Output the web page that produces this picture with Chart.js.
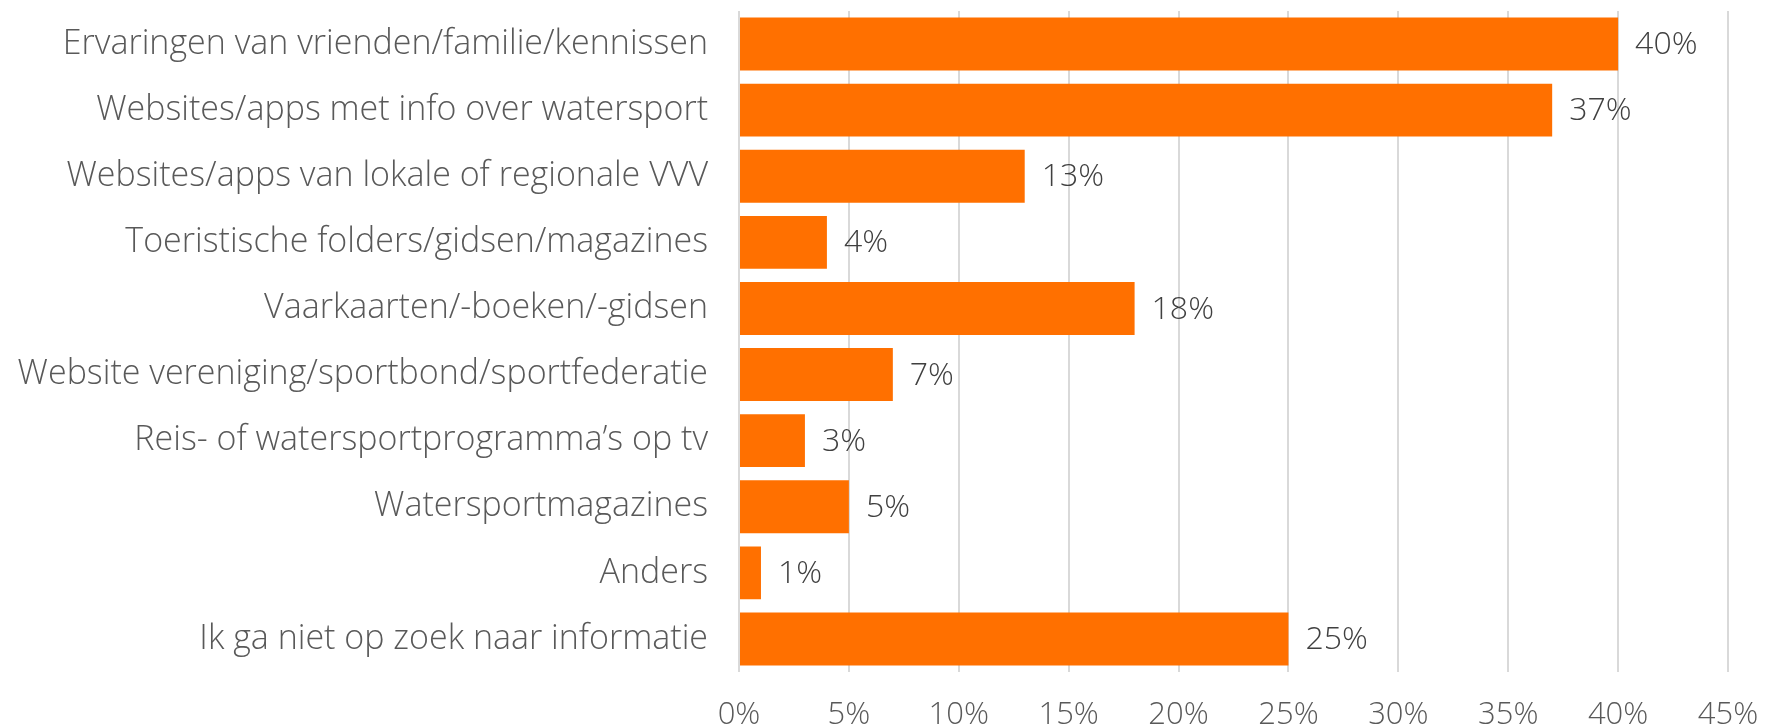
<!DOCTYPE html>
<html>
<head>
<meta charset="utf-8">
<script src="https://cdn.jsdelivr.net/npm/chart.js@4"></script>
<style>
    html, body { margin: 0; padding: 0; background: #ffffff; }
    #wrap { width: 1765px; height: 728px; position: relative; }
</style>
</head>
<body>
<div id="wrap"><canvas id="chart"></canvas></div>
<script>
// Informatiebronnen bij het oriënteren op watersport (% respondenten)
const categories = [
    "Ervaringen van vrienden/familie/kennissen",
    "Websites/apps met info over watersport",
    "Websites/apps van lokale of regionale VVV",
    "Toeristische folders/gidsen/magazines",
    "Vaarkaarten/-boeken/-gidsen",
    "Website vereniging/sportbond/sportfederatie",
    "Reis- of watersportprogramma\u2019s op tv",
    "Watersportmagazines",
    "Anders",
    "Ik ga niet op zoek naar informatie"
];
const percentages = [40, 37, 13, 4, 18, 7, 3, 5, 1, 25];
const tickValues = [0, 5, 10, 15, 20, 25, 30, 35, 40, 45];

const fontFamily = "'Century Gothic', 'Open Sans', sans-serif";

// Waardelabels rechts naast elke balk
const valueLabels = {
    id: "valueLabels",
    afterDatasetsDraw(chart) {
        const ctx = chart.ctx;
        const meta = chart.getDatasetMeta(0);
        ctx.save();
        ctx.font = "300 32px " + fontFamily;
        ctx.fillStyle = "#404040";
        ctx.textAlign = "left";
        ctx.textBaseline = "middle";
        meta.data.forEach((bar, i) => {
            ctx.fillText(percentages[i] + "%", bar.x + 17, bar.y + 1);
        });
        ctx.restore();
    }
};

let ctx = document.getElementById("chart").getContext("2d");
new Chart(ctx, {
    type: "bar",
    data: {
        labels: categories,
        datasets: [{
            data: percentages,
            backgroundColor: "#ff7000",
            barPercentage: 0.8,
            categoryPercentage: 1.0
        }]
    },
    options: {
        indexAxis: "y",
        responsive: true,
        maintainAspectRatio: false,
        animation: false,
        layout: { padding: { top: 11, right: 37, left: 0, bottom: 0 } },
        plugins: {
            legend: { display: false },
            tooltip: { enabled: false }
        },
        scales: {
            x: {
                min: 0,
                max: 45,
                afterBuildTicks: scale => {
                    scale.ticks = tickValues.map(v => ({ value: v }));
                },
                afterFit: scale => {
                    scale.height = 56;
                    scale.paddingLeft = 0;
                    scale.paddingRight = 0;
                },
                grid: { color: "#d9d9d9", lineWidth: 2, drawTicks: false },
                border: { display: false },
                ticks: {
                    padding: 25,
                    color: "#595959",
                    font: { family: fontFamily, size: 31, weight: 300 },
                    callback: v => v + "%"
                }
            },
            y: {
                afterFit: scale => {
                    scale.width = 739;
                    scale.paddingTop = 0;
                    scale.paddingBottom = 0;
                },
                grid: { display: false, drawTicks: false },
                border: { display: false },
                ticks: {
                    padding: 31,
                    color: "#595959",
                    font: { family: fontFamily, size: 34, weight: 300 }
                }
            }
        }
    },
    plugins: [valueLabels]
});
</script>
</body>
</html>
